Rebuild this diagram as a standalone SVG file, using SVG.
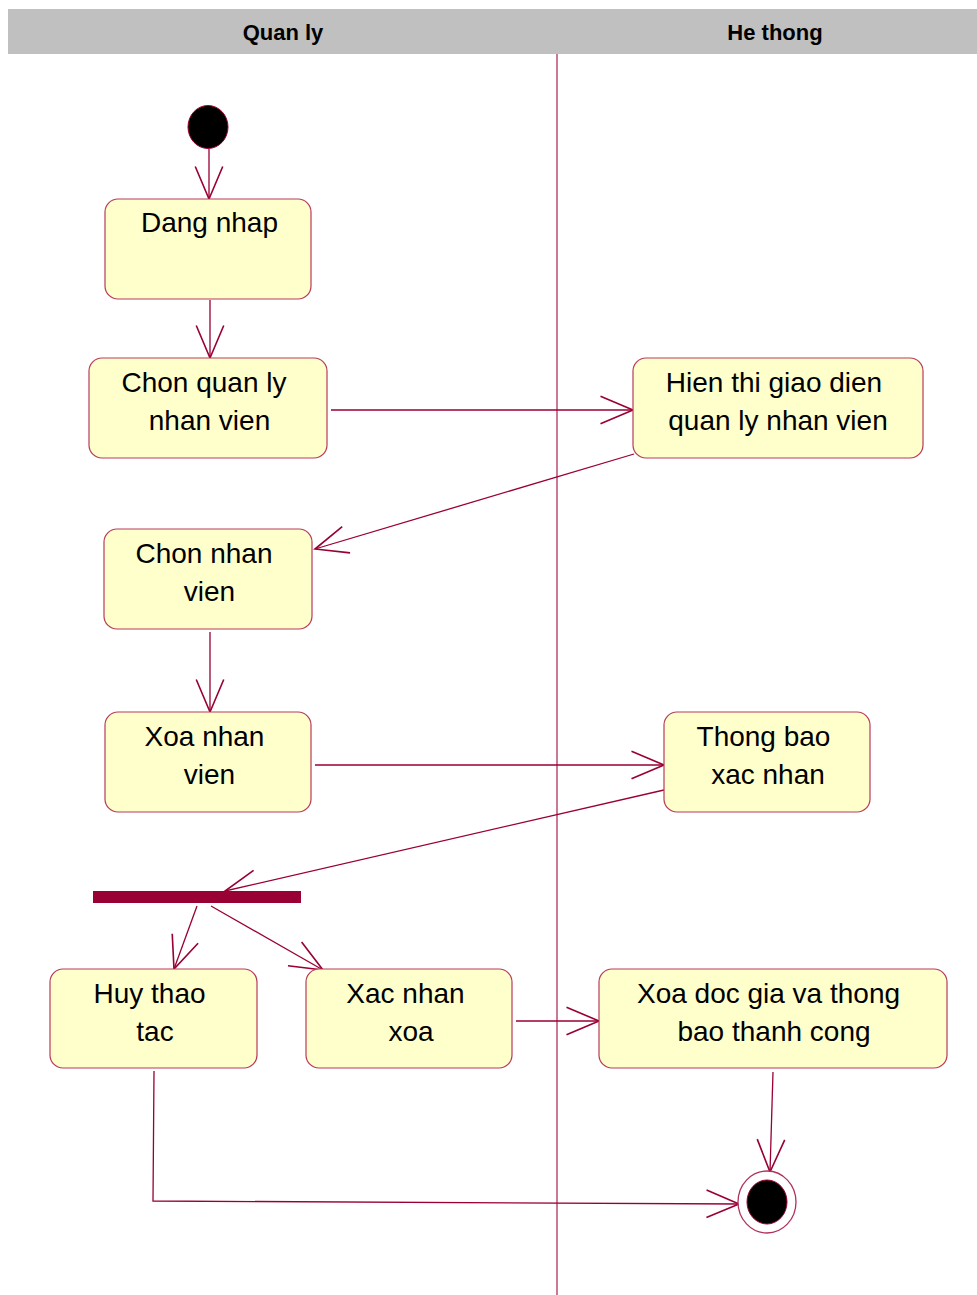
<svg xmlns="http://www.w3.org/2000/svg" width="977" height="1295" viewBox="0 0 977 1295">
  <style>
    .lane-head { fill: #C0C0C0; }
    .lane-title { font-family: "Liberation Sans", Arial, sans-serif; font-size: 22px; font-weight: bold; fill: #000; text-anchor: middle; }
    .divider { stroke: #B03060; stroke-width: 1.3; fill: none; }
    .act { fill: #FFFFCC; stroke: #B83A5C; stroke-width: 1.2; }
    .label { font-family: "Liberation Sans", Arial, sans-serif; font-size: 28px; fill: #000; text-anchor: middle; }
    .flow { stroke: #990033; stroke-width: 1.3; fill: none; }
    .bar { fill: #990033; }
  </style>
  <defs>
    <marker id="open-arrow" markerUnits="userSpaceOnUse" markerWidth="40" markerHeight="40" viewBox="-30 -15 32 30" refX="0" refY="0" orient="auto">
      <path d="M -26 -11 L 0 0 L -26 11" fill="none" stroke="#990033" stroke-width="1.3"/>
    </marker>
  </defs>
  <rect width="977" height="1295" fill="#FFFFFF"/>

  <!-- swimlane headers -->
  <g id="lanes">
    <rect class="lane-head" x="8" y="9" width="969" height="45"/>
    <text class="lane-title" x="283" y="40">Quan ly</text>
    <text class="lane-title" x="775" y="40">He thong</text>
    <line class="divider" x1="557" y1="54" x2="557" y2="1295"/>
  </g>

  <!-- control flows -->
  <g id="connectors">
    <line class="flow" x1="209" y1="149" x2="209" y2="199" marker-end="url(#open-arrow)"/>
    <line class="flow" x1="210" y1="300" x2="210" y2="358" marker-end="url(#open-arrow)"/>
    <line class="flow" x1="331" y1="410" x2="633" y2="410" marker-end="url(#open-arrow)"/>
    <line class="flow" x1="634" y1="454" x2="315" y2="549" marker-end="url(#open-arrow)"/>
    <line class="flow" x1="210" y1="632" x2="210" y2="712" marker-end="url(#open-arrow)"/>
    <line class="flow" x1="315" y1="765" x2="664" y2="765" marker-end="url(#open-arrow)"/>
    <line class="flow" x1="664" y1="790" x2="225" y2="891" marker-end="url(#open-arrow)"/>
    <line class="flow" x1="197" y1="906" x2="174" y2="969" marker-end="url(#open-arrow)"/>
    <line class="flow" x1="211" y1="906" x2="323" y2="970" marker-end="url(#open-arrow)"/>
    <line class="flow" x1="516" y1="1021" x2="599" y2="1021" marker-end="url(#open-arrow)"/>
    <line class="flow" x1="773" y1="1072" x2="770" y2="1172" marker-end="url(#open-arrow)"/>
    <polyline class="flow" points="154,1071 153,1201 739,1204" marker-end="url(#open-arrow)"/>
  </g>

  <g id="start">
    <ellipse cx="208" cy="127" rx="20" ry="21.5" fill="#000" stroke="#990033" stroke-width="1"/>
  </g>

  <g id="dang-nhap">
    <rect class="act" x="105" y="199" width="206" height="100" rx="13"/>
    <text class="label" x="209.5" y="232">Dang nhap</text>
  </g>

  <g id="chon-quan-ly">
    <rect class="act" x="89" y="358" width="238" height="100" rx="13"/>
    <text class="label" x="204" y="392">Chon quan ly</text>
    <text class="label" x="209.5" y="430">nhan vien</text>
  </g>

  <g id="hien-thi">
    <rect class="act" x="633" y="358" width="290" height="100" rx="13"/>
    <text class="label" x="774" y="392">Hien thi giao dien</text>
    <text class="label" x="778" y="430">quan ly nhan vien</text>
  </g>

  <g id="chon-nhan-vien">
    <rect class="act" x="104" y="529" width="208" height="100" rx="13"/>
    <text class="label" x="204" y="563">Chon nhan</text>
    <text class="label" x="209.5" y="601">vien</text>
  </g>

  <g id="xoa-nhan-vien">
    <rect class="act" x="105" y="712" width="206" height="100" rx="13"/>
    <text class="label" x="204.5" y="746">Xoa nhan</text>
    <text class="label" x="209.5" y="784">vien</text>
  </g>

  <g id="thong-bao">
    <rect class="act" x="664" y="712" width="206" height="100" rx="13"/>
    <text class="label" x="763.5" y="746">Thong bao</text>
    <text class="label" x="768" y="784">xac nhan</text>
  </g>

  <g id="fork">
    <rect class="bar" x="93" y="891" width="208" height="12"/>
  </g>

  <g id="huy-thao-tac">
    <rect class="act" x="50" y="969" width="207" height="99" rx="13"/>
    <text class="label" x="149.5" y="1003">Huy thao</text>
    <text class="label" x="155" y="1041">tac</text>
  </g>

  <g id="xac-nhan-xoa">
    <rect class="act" x="306" y="969" width="206" height="99" rx="13"/>
    <text class="label" x="405.5" y="1003">Xac nhan</text>
    <text class="label" x="411" y="1041">xoa</text>
  </g>

  <g id="xoa-doc-gia">
    <rect class="act" x="599" y="969" width="348" height="99" rx="13"/>
    <text class="label" x="768.5" y="1003">Xoa doc gia va thong</text>
    <text class="label" x="774" y="1041">bao thanh cong</text>
  </g>

  <g id="end">
    <ellipse cx="767" cy="1202" rx="29" ry="31" fill="#FFFFFF" stroke="#B03060" stroke-width="1.3"/>
    <ellipse cx="767" cy="1202" rx="20" ry="22" fill="#000" stroke="#990033" stroke-width="1"/>
  </g>
</svg>
